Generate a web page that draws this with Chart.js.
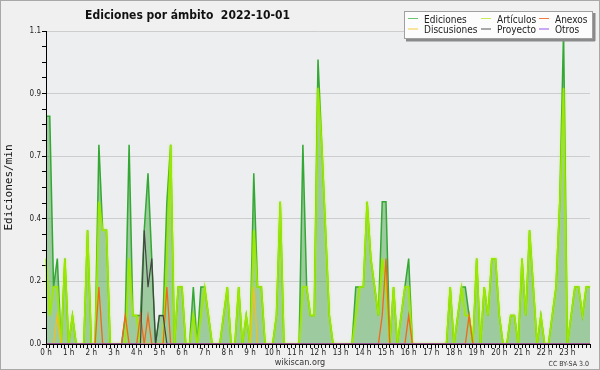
<!DOCTYPE html>
<html><head><meta charset="utf-8">
<script src="https://cdn.jsdelivr.net/npm/chart.js@4.4.0/dist/chart.umd.min.js"></script>
<style>html,body{margin:0;padding:0;background:#f0f0f0;}canvas{display:block;}</style>
</head><body>
<canvas id="c" width="600" height="370"></canvas>
<script>
const chartTitle = 'Ediciones por ámbito  2022-10-01';
const yAxisTitle = 'Ediciones/min';
const hourLabels = ['0 h','1 h','2 h','3 h','4 h','5 h','6 h','7 h','8 h','9 h','10 h','11 h','12 h','13 h','14 h','15 h','16 h','17 h','18 h','19 h','20 h','21 h','22 h','23 h'];
const yTickLabels = ['0.0','0.2','0.4','0.7','0.9','1.1'];
const yMajorValues = [0, 0.22, 0.44, 0.66, 0.88, 1.1];
const seriesNames = ['Ediciones','Artículos','Anexos','Discusiones','Proyecto','Otros'];

// one value every 10 minutes, 00:00 .. 24:00
const ediciones = [
0.8,0.8,0.2,0.3,0,0.3,0,0.1,0,0, 0,0.4,0,0,0.7,0.4,0.4,0,0,0,
0,0.1,0.7,0.1,0.1,0.1,0.4,0.6,0.3,0, 0.1,0.1,0.5,0.7,0,0.2,0.2,0,0,0.2,
0,0.2,0.2,0.1,0,0,0,0.1,0.2,0, 0,0.2,0,0.1,0,0.6,0.2,0.2,0,0,
0,0.1,0.5,0,0,0,0,0,0.7,0.2, 0.1,0.1,1.0,0.7,0.4,0.1,0,0,0,0,
0,0,0.2,0.2,0.2,0.5,0.3,0.2,0.1,0.5, 0.5,0,0.2,0,0.1,0.2,0.3,0,0,0,
0,0,0,0,0,0,0,0.2,0,0.1, 0.2,0.2,0.1,0,0.3,0,0.2,0.1,0.3,0.3,
0.1,0,0,0.1,0.1,0,0.3,0.1,0.4,0.2, 0,0.1,0,0,0.1,0.2,0.5,1.1,0,0.1,
0.2,0.2,0.1,0.2,0.2];
const articulos = [
0.3,0.1,0.2,0.2,0,0.3,0,0.1,0,0, 0,0.4,0,0,0.5,0.4,0.4,0,0,0,
0,0,0.3,0.1,0.1,0,0,0,0,0, 0,0,0.3,0.7,0,0.2,0.2,0,0,0.1,
0,0.1,0.2,0.1,0,0,0,0.1,0.2,0, 0,0.2,0,0.1,0,0.4,0.2,0.2,0,0,
0,0.1,0.5,0,0,0,0,0,0.2,0.2, 0.1,0.1,0.9,0.7,0.4,0.1,0,0,0,0,
0,0,0.1,0.2,0.2,0.5,0.3,0.2,0.1,0.3, 0.2,0,0.2,0,0.1,0.2,0.2,0,0,0,
0,0,0,0,0,0,0,0.2,0,0.1, 0.2,0.1,0.1,0,0.3,0,0.2,0.1,0.3,0.3,
0.1,0,0,0.1,0.1,0,0.3,0.1,0.4,0.2, 0,0.1,0,0,0.1,0.2,0.5,0.9,0,0.1,
0.2,0.2,0.1,0.2,0.2];
const anexos = [
0,0,0,0,0,0,0,0,0,0, 0,0,0,0,0.2,0,0,0,0,0,
0,0.1,0,0,0,0.1,0,0.1,0,0, 0,0,0.2,0,0,0,0,0,0,0,
0,0,0,0,0,0,0,0,0,0, 0,0,0,0,0,0,0,0,0,0,
0,0,0,0,0,0,0,0,0,0, 0,0,0,0,0,0,0,0,0,0,
0,0,0,0,0,0,0,0,0,0.1, 0.3,0,0,0,0,0,0.1,0,0,0,
0,0,0,0,0,0,0,0,0,0, 0,0,0.1,0,0,0,0,0,0,0,
0,0,0,0,0,0,0,0,0,0, 0,0,0,0,0,0,0,0,0,0,
0,0,0,0,0];
const discusiones = [
0,0,0,0.1,0,0,0,0,0,0, 0,0,0,0,0,0,0,0,0,0,
0,0,0,0,0,0,0,0,0,0, 0,0,0,0,0,0,0,0,0,0,
0,0,0,0,0,0,0,0,0,0, 0,0,0,0,0,0.2,0,0,0,0,
0,0,0,0,0,0,0,0,0,0, 0,0,0,0,0,0,0,0,0,0,
0,0,0,0,0,0,0,0,0,0, 0,0,0,0,0,0,0,0,0,0,
0,0,0,0,0,0,0,0,0,0, 0,0,0,0,0,0,0,0,0,0,
0,0,0,0,0,0,0,0,0,0, 0,0,0,0,0,0,0,0,0,0,
0,0,0,0,0];
const proyecto = [
0,0,0,0,0,0,0,0,0,0, 0,0,0,0,0,0,0,0,0,0,
0,0,0,0,0,0,0.4,0.2,0.3,0, 0.1,0.1,0,0,0,0,0,0,0,0,
0,0,0,0,0,0,0,0,0,0, 0,0,0,0,0,0,0,0,0,0,
0,0,0,0,0,0,0,0,0,0, 0,0,0,0,0,0,0,0,0,0,
0,0,0,0,0,0,0,0,0,0, 0,0,0,0,0,0,0,0,0,0,
0,0,0,0,0,0,0,0,0,0, 0,0,0,0,0,0,0,0,0,0,
0,0,0,0,0,0,0,0,0,0, 0,0,0,0,0,0,0,0,0,0,
0,0,0,0,0];
const otros = [
0,0,0,0,0,0,0,0,0,0, 0,0,0,0,0,0,0,0,0,0,
0,0,0,0,0,0,0,0,0,0, 0,0,0,0,0,0,0,0,0,0,
0,0,0,0,0,0,0,0,0,0, 0,0,0,0,0,0,0,0,0,0,
0,0,0,0,0,0,0,0,0,0, 0,0,0,0,0,0,0,0,0,0,
0,0,0,0,0,0,0,0,0,0, 0,0,0,0,0,0,0,0,0,0,
0,0,0,0,0,0,0,0,0,0, 0,0,0,0,0,0,0,0,0,0,
0,0,0,0,0,0,0,0,0,0, 0,0,0,0,0,0,0,0,0,0,
0,0,0,0,0];

const slots = [];
for (let i = 0; i < ediciones.length; i++) {
  const m = i * 10;
  slots.push(Math.floor(m / 60) + ':' + String(m % 60).padStart(2, '0'));
}

const COND = '"DejaVu Sans Condensed", "DejaVu Sans", sans-serif';
const colors = {
  Ediciones: '#33a833', 'Artículos': '#9be800', Anexos: '#ee6a1a',
  Discusiones: '#f0c020', Proyecto: '#444444', Otros: '#9944ee'
};
const legendColors = {
  Ediciones: '#6cc46c', 'Artículos': '#c6ec5a', Anexos: '#ee7a44',
  Discusiones: '#f2cc40', Proyecto: '#555555', Otros: '#9955ee'
};

function ds(label, data, order, width, extra) {
  return Object.assign({
    label, data, order, borderColor: colors[label], borderWidth: width,
    pointRadius: 0, tension: 0, fill: false, clip: 1
  }, extra || {});
}

const decor = {
  id: 'decor',
  beforeDraw(chart) {
    const {ctx, chartArea: a} = chart;
    ctx.save();
    ctx.fillStyle = '#f0f0f0';
    ctx.fillRect(0, 0, 600, 370);
    ctx.strokeStyle = '#a8a8a8';
    ctx.lineWidth = 1;
    ctx.strokeRect(0.5, 0.5, 599, 369);
    ctx.fillStyle = '#edeef0';
    ctx.fillRect(a.left, a.top, a.right - a.left, a.bottom - a.top);
    ctx.restore();
  },
  beforeDatasetDraw(chart, args) {
    if (args.meta.label === 'Artículos') {
      const ctx = chart.ctx;
      ctx.save();
      ctx.shadowColor = 'rgba(170,240,0,0.8)';
      ctx.shadowBlur = 2.5;
    }
  },
  afterDatasetDraw(chart, args) {
    if (args.meta.label === 'Artículos') chart.ctx.restore();
  },
  afterDatasetsDraw(chart) {
    const {ctx, chartArea: a} = chart;
    ctx.save();
    ctx.strokeStyle = '#000';
    ctx.lineWidth = 1;
    ctx.beginPath();
    const lx = Math.floor(a.left) + 0.5, by = Math.floor(a.bottom) + 0.5;
    ctx.moveTo(lx, a.top); ctx.lineTo(lx, by); ctx.lineTo(a.right, by);
    ctx.stroke();
    ctx.restore();
  },
  afterDraw(chart) {
    const ctx = chart.ctx;
    ctx.save();
    // title
    ctx.fillStyle = '#111';
    ctx.font = 'bold 12px ' + COND;
    ctx.textAlign = 'center';
    ctx.textBaseline = 'alphabetic';
    ctx.fillText(chartTitle, 187.5, 19);
    // footer
    ctx.fillStyle = '#333';
    ctx.font = '9px ' + COND;
    ctx.fillText('wikiscan.org', 300, 365);
    ctx.font = '7px ' + COND;
    ctx.textAlign = 'right';
    ctx.fillText('CC BY-SA 3.0', 589, 366);
    // legend box with shadow
    ctx.fillStyle = '#8a8a8a';
    ctx.fillRect(406, 38.5, 189, 3);
    ctx.fillRect(593, 13, 2.5, 28);
    ctx.fillStyle = '#fcfcfc';
    ctx.fillRect(404, 11, 189, 28);
    ctx.strokeStyle = '#a0a0a0';
    ctx.lineWidth = 1;
    ctx.strokeRect(404.5, 11.5, 188, 27);
    const cols = [[408, 424], [481, 497], [539, 555]];
    const rows = [[18.5, 22.5], [29, 32.5]];
    const layout = [['Ediciones', 0, 0], ['Artículos', 1, 0], ['Anexos', 2, 0],
                    ['Discusiones', 0, 1], ['Proyecto', 1, 1], ['Otros', 2, 1]];
    ctx.font = '10px ' + COND;
    ctx.textAlign = 'left';
    layout.forEach(([name, c, r]) => {
      ctx.strokeStyle = legendColors[name];
      ctx.lineWidth = 1;
      ctx.beginPath();
      ctx.moveTo(cols[c][0], rows[r][0]);
      ctx.lineTo(cols[c][0] + 10, rows[r][0]);
      ctx.stroke();
      ctx.fillStyle = '#222';
      ctx.fillText(name, cols[c][1], rows[r][1]);
    });
    ctx.restore();
  }
};

new Chart(document.getElementById('c'), {
  type: 'line',
  data: {
    labels: slots,
    datasets: [
      ds('Otros', otros, 1, 1.2),
      ds('Proyecto', proyecto, 2, 1.2),
      ds('Anexos', anexos, 3, 1.3),
      ds('Discusiones', discusiones, 4, 1.3),
      ds('Artículos', articulos, 5, 1.5),
      ds('Ediciones', ediciones, 6, 1.5, {fill: 'origin', backgroundColor: 'rgba(60,160,60,0.45)'})
    ]
  },
  options: {
    responsive: false,
    animation: false,
    devicePixelRatio: 1,
    events: [],
    layout: {padding: {top: 31, right: 10, left: 0, bottom: 0}},
    plugins: {legend: {display: false}, title: {display: false}, tooltip: {enabled: false}},
    scales: {
      x: {
        type: 'category',
        offset: false,
        afterFit: s => { s.height = 26; },
        grid: {drawOnChartArea: false, drawTicks: true, tickLength: 4, tickColor: '#000'},
        border: {display: true, color: '#000'},
        ticks: {
          autoSkip: false, maxRotation: 0, minRotation: 0, padding: 0,
          font: {family: COND, size: 8}, color: '#222',
          callback: (v, i) => (i % 6 === 0 && i / 6 < hourLabels.length) ? hourLabels[i / 6] : ''
        }
      },
      y: {
        type: 'linear',
        min: 0, max: 1.1,
        afterFit: s => { s.width = 46; },
        afterBuildTicks: s => {
          const t = [];
          for (let k = 0; k < yMajorValues.length; k++) {
            t.push({value: yMajorValues[k]});
            if (k < yMajorValues.length - 1) {
              for (let j = 1; j < 4; j++) t.push({value: yMajorValues[k] + (yMajorValues[k + 1] - yMajorValues[k]) * j / 4});
            }
          }
          s.ticks = t;
        },
        grid: {
          drawTicks: true, tickLength: 4, tickColor: '#000',
          color: c => (c.index % 4 === 0 && c.index > 0) ? '#cdcdcd' : 'rgba(0,0,0,0)'
        },
        border: {display: true, color: '#000'},
        title: {display: true, text: yAxisTitle, color: '#111', font: {family: '"DejaVu Sans Mono", monospace', size: 11}, padding: {top: 3, bottom: 0}},
        ticks: {
          padding: 1, font: {family: COND, size: 8}, color: '#222',
          callback: (v, i) => (i % 4 === 0) ? yTickLabels[i / 4] : ''
        }
      }
    }
  },
  plugins: [decor]
});
</script>
</body></html>
